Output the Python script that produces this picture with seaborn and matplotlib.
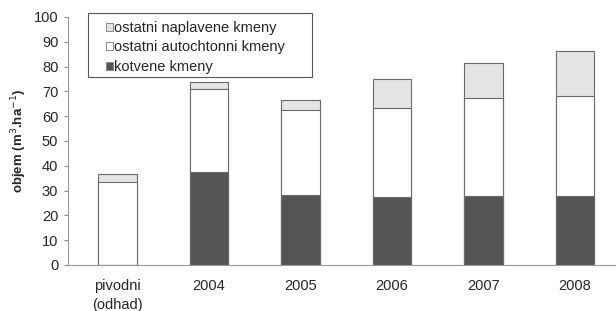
import pandas as pd
import numpy as np
import matplotlib.pyplot as plt
from matplotlib.patches import Patch, Rectangle
import seaborn as sns

categories = ['pivodni\n(odhad)', '2004', '2005', '2006', '2007', '2008']
kotvene = [0.0, 37.4, 28.3, 27.3, 27.7, 27.7]
autochtonni = [33.6, 33.4, 34.0, 36.1, 39.8, 40.6]
naplavene = [2.9, 2.9, 4.1, 11.4, 14.0, 17.8]

labels = ['ostatni naplavene kmeny', 'ostatni autochtonni kmeny', 'kotvene kmeny']
colors = ['#e4e4e4', '#ffffff', '#555555']

df = pd.DataFrame({'kat': categories, 'kotvene': kotvene,
                   'autochtonni': autochtonni, 'naplavene': naplavene})
df['lvl2'] = df['kotvene'] + df['autochtonni']
df['lvl3'] = df['lvl2'] + df['naplavene']

sns.set_style('white')
plt.rcParams['font.family'] = ['Liberation Sans', 'DejaVu Sans']

fig = plt.figure(figsize=(6.16, 3.11), dpi=100)
ax = fig.add_axes([68/616, 1 - 265/311, 548/616, 248/311])

# stacked bars drawn as overlapping cumulative layers
for col, c in zip(['lvl3', 'lvl2', 'kotvene'], colors):
    sns.barplot(data=df, x='kat', y=col, color=c, width=0.42,
                edgecolor='#6a6a6a', linewidth=0.8, saturation=1, ax=ax)

ax.set_ylim(0, 100)
ax.set_xlim(-0.54, 5.45)
ax.set_yticks(range(0, 101, 10))
ax.set_xlabel('')
ax.set_ylabel('objem (m$^3$.ha$^{-1}$)', fontsize=9.5, fontweight='bold', labelpad=3.5)
ax.tick_params(axis='y', length=3, color='#888888', labelsize=10.5, pad=4, left=True)
ax.tick_params(axis='x', length=0, labelsize=10.5, pad=10)
for t in ax.get_xticklabels():
    t.set_linespacing(1.45)
for s in ['top', 'right']:
    ax.spines[s].set_visible(False)
ax.spines['left'].set_color('#999999')
ax.spines['bottom'].set_color('#999999')

# legend without own frame, boxed by a rectangle like the reference
handles = [Patch(facecolor=c, edgecolor='#888888', linewidth=0.7) for c in colors]
fig.legend(handles, labels, loc='upper left', bbox_to_anchor=(106/616, 1 - 21/311),
           fontsize=10.5, frameon=False, handlelength=0.45, handleheight=0.45,
           handletextpad=0.1, borderpad=0, labelspacing=0.37, borderaxespad=0)
fig.patches.append(Rectangle((88/616, 1 - 77/311), 224/616, 64/311,
                             transform=fig.transFigure, facecolor='white',
                             edgecolor='#555555', linewidth=0.8, zorder=0.5))

fig.savefig('out.png', dpi=100)
